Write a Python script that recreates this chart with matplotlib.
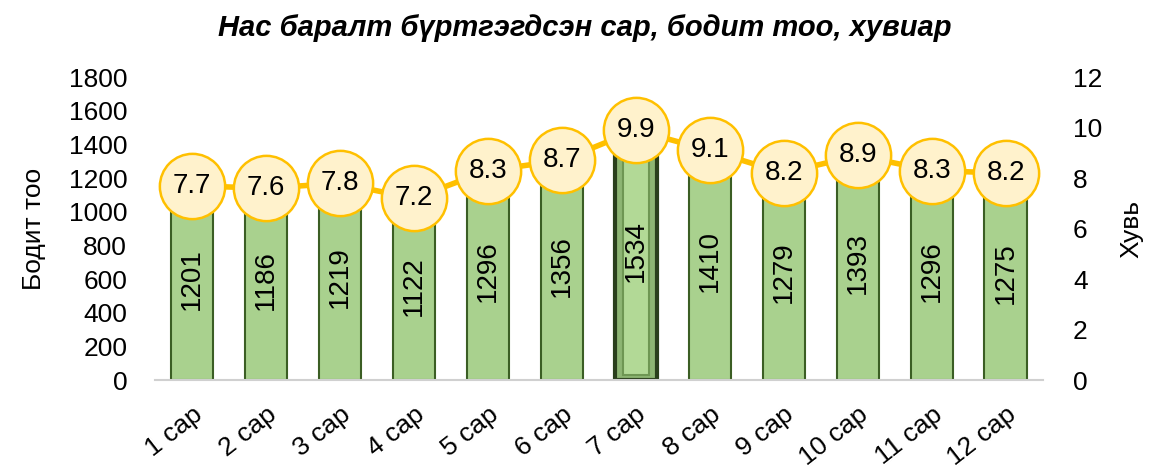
import matplotlib.pyplot as plt
import numpy as np

# data
months = ["1 сар", "2 сар", "3 сар", "4 сар", "5 сар", "6 сар",
          "7 сар", "8 сар", "9 сар", "10 сар", "11 сар", "12 сар"]
counts = [1201, 1186, 1219, 1122, 1296, 1356, 1534, 1410, 1279, 1393, 1296, 1275]
percent = [7.7, 7.6, 7.8, 7.2, 8.3, 8.7, 9.9, 9.1, 8.2, 8.9, 8.3, 8.2]
highlight = 6  # July bar is drawn with a bevel

plt.rcParams['font.family'] = ['Liberation Sans', 'DejaVu Sans']

fig = plt.figure(figsize=(11.52, 4.68), dpi=100)
ax = fig.add_axes([0.1345, 0.188, 0.7705, 0.647])
x = np.arange(len(months))

bars = ax.bar(x, counts, width=0.57, color="#A9D18E", edgecolor="#3B5E24", linewidth=1.5, zorder=2)

# bevel look on the highlighted bar
b = bars[highlight]
b.set_edgecolor("#2A3F1C")
b.set_linewidth(3)
b.set_facecolor("#8DB573")
bw, bh = b.get_width(), b.get_height()
ax.bar(x[highlight], bh - 60, bottom=30, width=bw * 0.62, color="#B2D996",
       edgecolor="#6E9653", linewidth=1.5, zorder=2.5)

for i, v in enumerate(counts):
    ax.text(x[i], v / 2, str(v), rotation=90, ha="center", va="center",
            fontsize=20, color="black", zorder=3)

ax.set_ylim(0, 1800)
ax.set_yticks(range(0, 1801, 200))
ax.set_xlim(-0.5, len(months) - 0.5)
ax.set_xticks(x)
ax.set_xticklabels(months, rotation=38, ha="right", rotation_mode="anchor", fontsize=19)
ax.tick_params(axis="both", length=0, labelsize=19)
ax.tick_params(axis="x", pad=16)
ax.tick_params(axis="y", pad=20)
ax.set_ylabel("Бодит тоо", fontsize=19, labelpad=16)
for s in ["top", "right", "left"]:
    ax.spines[s].set_visible(False)
ax.spines["bottom"].set_color("#D0D0D0")
ax.spines["bottom"].set_linewidth(1.5)

ax2 = ax.twinx()
ax2.plot(x, percent, color="#FFC000", linewidth=4, marker="o", markersize=47,
         markerfacecolor="#FFF2CC", markeredgecolor="#FFC000", markeredgewidth=1.8, zorder=4)
for i, v in enumerate(percent):
    ax2.text(x[i], v, f"{v:.1f}", ha="center", va="center", fontsize=20, zorder=5)
ax2.set_ylim(0, 12)
ax2.set_yticks(range(0, 13, 2))
ax2.tick_params(axis="y", length=0, labelsize=19, pad=22)
ax2.set_ylabel("Хувь", fontsize=19, labelpad=12)
for s in ax2.spines.values():
    s.set_visible(False)

fig.text(0.508, 0.94, "Нас баралт бүртгэгдсэн сар, бодит тоо, хувиар",
         ha="center", va="center", fontsize=21, fontweight="bold", fontstyle="italic")

fig.savefig("out.png", dpi=100)
